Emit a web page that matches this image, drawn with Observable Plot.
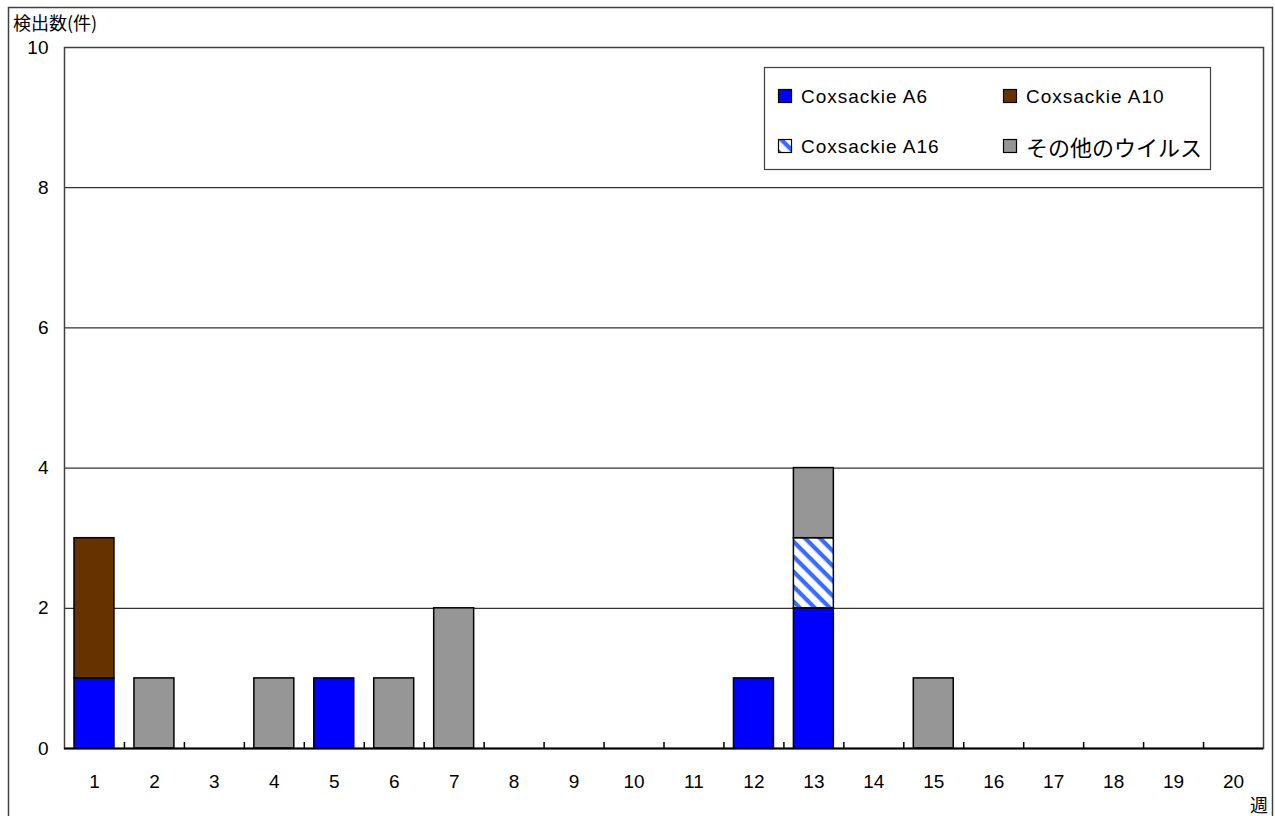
<!DOCTYPE html>
<html>
<head>
<meta charset="utf-8">
<script src="https://cdn.jsdelivr.net/npm/d3@7"></script>
<script src="https://cdn.jsdelivr.net/npm/@observablehq/plot@0.6"></script>
<style>
  html, body { margin: 0; padding: 0; background: #fff; }
</style>
</head>
<body>
<div id="chart"></div>
<script>
// ---- data ----
const weeks = [1,2,3,4,5,6,7,8,9,10,11,12,13,14,15,16,17,18,19,20];
const series = ["Coxsackie A6", "Coxsackie A10", "Coxsackie A16", "その他のウイルス"];
const seriesColors = ["#0000ff", "#663300", "url(#hatchA16)", "#969696"];
const a6    = [1,0,0,0,1,0,0,0,0,0,0,1,2,0,0,0,0,0,0,0];
const a10   = [2,0,0,0,0,0,0,0,0,0,0,0,0,0,0,0,0,0,0,0];
const a16   = [0,0,0,0,0,0,0,0,0,0,0,0,1,0,0,0,0,0,0,0];
const other = [0,1,0,1,0,1,2,0,0,0,0,0,1,0,1,0,0,0,0,0];
const yTicks = [0, 2, 4, 6, 8, 10];
const gridLines = [2, 4, 6, 8];
const yTitle = "検出数(件)";
const xTitle = "週";

const valuesBySeries = [a6, a10, a16, other];
const table = [];
series.forEach((s, si) => {
  weeks.forEach((w, wi) => {
    const v = valuesBySeries[si][wi];
    if (v > 0) table.push({week: w, series: s, value: v});
  });
});
const boundaries = weeks.slice(0, -1).map(w => w + 0.5);

const W = 1275, H = 816;
const latin = "'Liberation Sans', Arial, 'Noto Sans CJK JP', sans-serif";
const cjk = "'Noto Sans CJK JP', 'Liberation Sans', sans-serif";

const svg = Plot.plot({
  width: W,
  height: H,
  marginLeft: 64,
  marginRight: 12,
  marginTop: 47,
  marginBottom: 68,
  style: {fontFamily: latin, fontSize: "19px", background: "#fff", color: "#000"},
  x: {domain: [0.5, 20.5]},
  y: {domain: [0, 10]},
  color: {domain: series, range: seriesColors},
  marks: [
    Plot.ruleY(gridLines, {stroke: "#000", strokeWidth: 1}),
    Plot.rectY(table, Plot.stackY({
      x1: d => d.week - 0.5,
      x2: d => d.week + 0.5,
      y: "value",
      fill: "series",
      order: series,
      insetLeft: 10,
      insetRight: 10,
      stroke: "#000",
      strokeWidth: 1.5
    })),
    Plot.frame({stroke: "#404040", strokeWidth: 1.5}),
    Plot.ruleY([0], {stroke: "#000", strokeWidth: 2}),
    Plot.ruleX(boundaries, {y1: 0, y2: 0, insetTop: -6, stroke: "#000", strokeWidth: 1.5}),
    Plot.axisX(weeks, {tickSize: 0, tickPadding: 26, fontSize: 19, label: null, tickFormat: d => String(d)}),
    Plot.axisY(yTicks, {tickSize: 0, tickPadding: 16, fontSize: 19, label: null, tickFormat: d => String(d)})
  ]
});

document.getElementById("chart").appendChild(svg);

const s = d3.select(svg);
const defs = s.insert("defs", ":first-child");
const pat = defs.append("pattern")
  .attr("id", "hatchA16")
  .attr("patternUnits", "userSpaceOnUse")
  .attr("width", 10.6).attr("height", 10.6)
  .attr("patternTransform", "rotate(45)");
pat.append("rect").attr("width", 10.6).attr("height", 10.6).attr("fill", "#fff");
pat.append("rect").attr("width", 10.6).attr("height", 4.2).attr("fill", "#3a6cff");

// outer border
s.append("rect")
  .attr("x", 8.5).attr("y", 7.5)
  .attr("width", 1264).attr("height", 840)
  .attr("fill", "none").attr("stroke", "#404040").attr("stroke-width", 1.5);

// axis titles
s.append("text")
  .attr("x", 13).attr("y", 22)
  .attr("text-anchor", "start")
  .attr("dominant-baseline", "central")
  .attr("font-family", cjk).attr("font-size", 18)
  .text(yTitle);
s.append("text")
  .attr("x", 1259).attr("y", 804)
  .attr("text-anchor", "middle")
  .attr("dominant-baseline", "central")
  .attr("font-family", cjk).attr("font-size", 18)
  .text(xTitle);

// legend
const lg = s.append("g").attr("text-anchor", "start");
lg.append("rect")
  .attr("x", 764.5).attr("y", 67.5)
  .attr("width", 446).attr("height", 102)
  .attr("fill", "#fff").attr("stroke", "#404040").attr("stroke-width", 1.2);
const cols = [778, 1003];
const rows = [96, 146];
series.forEach((name, i) => {
  const cx = cols[i % 2], cy = rows[Math.floor(i / 2)];
  lg.append("rect")
    .attr("x", cx + 0.5).attr("y", cy - 7 + 0.5)
    .attr("width", 13).attr("height", 13)
    .attr("fill", seriesColors[i])
    .attr("stroke", "#000").attr("stroke-width", 1.2);
  const isCjk = /[^\x00-\x7F]/.test(name);
  lg.append("text")
    .attr("x", cx + 23).attr("y", cy)
    .attr("text-anchor", "start")
    .attr("dominant-baseline", "central")
    .attr("font-family", isCjk ? cjk : latin)
    .attr("font-size", isCjk ? 22 : 19)
    .attr("letter-spacing", isCjk ? 0 : 1)
    .text(name);
});
</script>
</body>
</html>
